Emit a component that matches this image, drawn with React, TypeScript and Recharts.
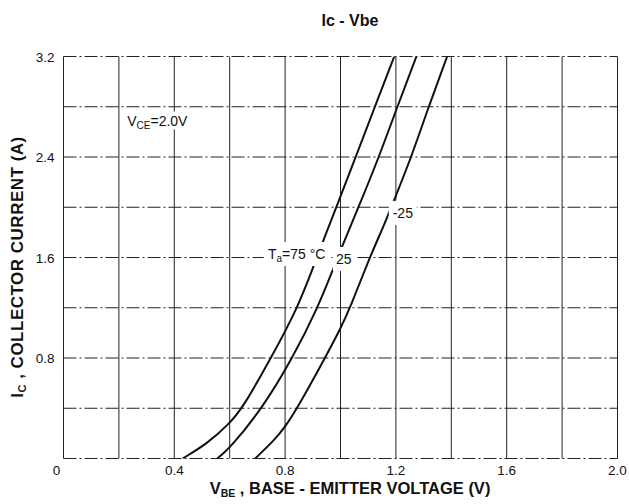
import React from "react";
import { LineChart, Line, XAxis, YAxis, CartesianGrid, ReferenceDot } from "recharts";

// Curve data (V_BE in volts, I_C in amperes)
const vbe75 = [0.43, 0.52, 0.6, 0.646, 0.749, 0.846, 0.906, 0.944, 0.985, 1.055, 1.124, 1.194];
const ic75 = [0, 0.12, 0.28, 0.4, 0.8, 1.2, 1.55, 1.77, 2.0, 2.4, 2.8, 3.2];

const vbe25 = [0.555, 0.6, 0.718, 0.827, 0.918, 0.972, 1.005, 1.065, 1.139, 1.205, 1.274];
const ic25 = [0, 0.08, 0.4, 0.8, 1.2, 1.5, 1.686, 2.0, 2.4, 2.8, 3.2];

const vbeM25 = [0.692, 0.763, 0.8, 0.844, 0.944, 1.0, 1.035, 1.105, 1.158, 1.194, 1.256, 1.318, 1.385];
const icM25 = [0, 0.15, 0.252, 0.4, 0.8, 1.035, 1.2, 1.6, 1.86, 2.06, 2.4, 2.8, 3.2];

const xTicks = [0, 0.2, 0.4, 0.6, 0.8, 1.0, 1.2, 1.4, 1.6, 1.8, 2.0];
const xLabeled = [0.4, 0.8, 1.2, 1.6, 2.0];
const yTicks = [0, 0.4, 0.8, 1.2, 1.6, 2.0, 2.4, 2.8, 3.2];
const yLabeled = [0.8, 1.6, 2.4, 3.2];

const toPoints = (vs: number[], is: number[]) => vs.map((v, k) => ({ v, i: is[k] }));
const data75 = toPoints(vbe75, ic75);
const data25 = toPoints(vbe25, ic25);
const dataM25 = toPoints(vbeM25, icM25);

const FONT = "'Liberation Sans', Arial, Helvetica, sans-serif";
const INK = "#111";

const near = (a: number, b: number) => Math.abs(a - b) < 1e-6;

const XTick = (props: any) => {
  const { x, y, payload } = props;
  const val = payload.value as number;
  if (near(val, 0)) {
    return (
      <text x={x - 7} y={y + 16} textAnchor="middle" fontFamily={FONT} fontSize={13.5} fill={INK}>
        0
      </text>
    );
  }
  if (!xLabeled.some((t) => near(t, val))) return null;
  return (
    <text x={x} y={y + 16} textAnchor="middle" fontFamily={FONT} fontSize={13.5} fill={INK}>
      {val.toFixed(1)}
    </text>
  );
};

const YTick = (props: any) => {
  const { x, y, payload } = props;
  const val = payload.value as number;
  if (!yLabeled.some((t) => near(t, val))) return null;
  return (
    <text x={x - 9} y={y + 5} textAnchor="end" fontFamily={FONT} fontSize={13.5} fill={INK}>
      {val.toFixed(1)}
    </text>
  );
};

const makeLabel = (content: React.ReactNode, w: number, h: number, anchor: "middle" | "start" = "middle") =>
  (props: any) => {
    const { cx, cy } = props;
    const rx = anchor === "middle" ? cx - w / 2 : cx - 3;
    return (
      <g>
        <rect x={rx} y={cy - h / 2} width={w} height={h} fill="#fff" />
        <text x={cx} y={cy + 5} textAnchor={anchor} fontFamily={FONT} fontSize={14} fill={INK}>
          {content}
        </text>
      </g>
    );
  };

const Label75 = makeLabel(
  <>
    T<tspan dy={3} fontSize={10}>a</tspan>
    <tspan dy={-3}>=75 °C</tspan>
  </>,
  66,
  24
);
const Label25 = makeLabel(<>25</>, 22, 24);
const LabelM25 = makeLabel(<>-25</>, 28, 24);
const LabelVce = makeLabel(
  <>
    V<tspan dy={3} fontSize={10}>CE</tspan>
    <tspan dy={-3}>=2.0V</tspan>
  </>,
  76,
  18,
  "start"
);

export default function App() {
  return (
    <div style={{ position: "absolute", left: 0, top: 0, width: 629, height: 504, background: "#fff" }}>
      <LineChart width={629} height={504} margin={{ top: 56.5, right: 11.5, bottom: 15.5, left: 23.5 }}>
        <text x={350} y={26} textAnchor="middle" fontFamily={FONT} fontSize={16} fontWeight={700} fill={INK}>
          Ic - Vbe
        </text>
        <CartesianGrid horizontal={false} vertical={true} stroke="#222" strokeWidth={1} />
        <CartesianGrid horizontal={true} vertical={false} stroke="#222" strokeWidth={1} strokeDasharray="13 3 2 3" />
        <XAxis
          type="number"
          dataKey="v"
          domain={[0, 2]}
          ticks={xTicks}
          height={30}
          axisLine={false}
          tickLine={false}
          tickSize={0}
          tickMargin={0}
          tick={<XTick />}
          interval={0}
          allowDataOverflow
        />
        <YAxis
          type="number"
          dataKey="i"
          domain={[0, 3.2]}
          ticks={yTicks}
          width={40}
          axisLine={false}
          tickLine={false}
          tickSize={0}
          tickMargin={0}
          tick={<YTick />}
          interval={0}
          allowDataOverflow
        />
        <Line data={data75} dataKey="i" type="basis" stroke={INK} strokeWidth={2} dot={false} isAnimationActive={false} />
        <Line data={data25} dataKey="i" type="basis" stroke={INK} strokeWidth={2} dot={false} isAnimationActive={false} />
        <Line data={dataM25} dataKey="i" type="basis" stroke={INK} strokeWidth={2} dot={false} isAnimationActive={false} />
        <ReferenceDot x={0.842} y={1.628} r={0} shape={Label75} ifOverflow="visible" />
        <ReferenceDot x={1.012} y={1.588} r={0} shape={Label25} ifOverflow="visible" />
        <ReferenceDot x={1.225} y={1.955} r={0} shape={LabelM25} ifOverflow="visible" />
        <ReferenceDot x={0.23} y={2.69} r={0} shape={LabelVce} ifOverflow="visible" />
        <text x={350} y={494} textAnchor="middle" fontFamily={FONT} fontSize={16.5} fontWeight={700} fill={INK}>
          V<tspan dy={3} fontSize={10.5}>BE</tspan>
          <tspan dy={-3}> , BASE - EMITTER VOLTAGE  (V)</tspan>
        </text>
        <text
          x={0}
          y={0}
          transform="translate(23 267) rotate(-90)"
          textAnchor="middle"
          fontFamily={FONT}
          fontSize={17}
          fontWeight={700}
          letterSpacing={0.5}
          fill={INK}
        >
          I<tspan dy={3} fontSize={11}>C</tspan>
          <tspan dy={-3}> , COLLECTOR CURRENT  (A)</tspan>
        </text>
      </LineChart>
    </div>
  );
}
